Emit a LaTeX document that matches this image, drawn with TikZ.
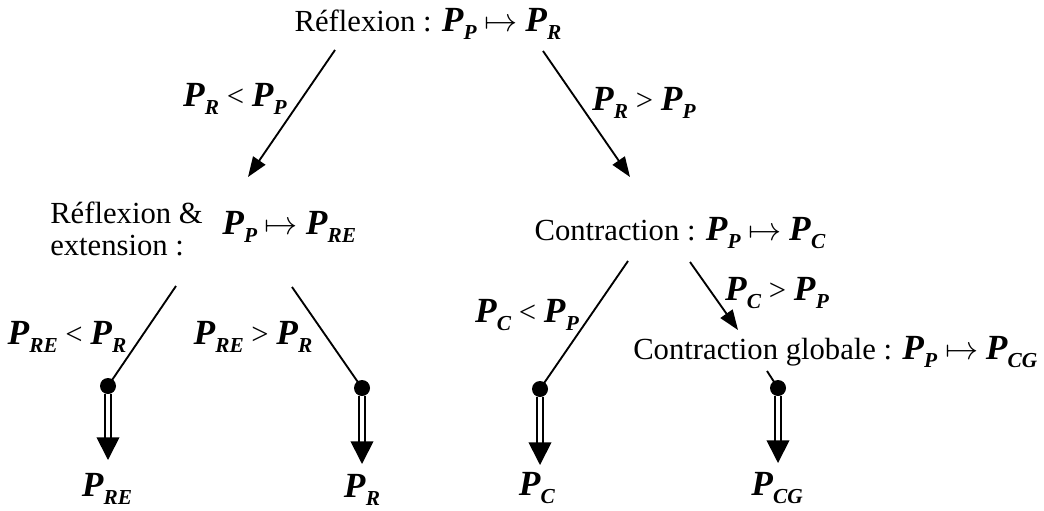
\documentclass[tikz,border=0pt]{standalone}
\usepackage{fontspec}
\setmainfont{Liberation Serif}
\usepackage{amssymb}
\usepackage{amsmath}
\usetikzlibrary{arrows.meta}

\newcommand{\pv}[1]{{\fontsize{26.5}{26.5}\selectfont\textbf{\textit{P}}}\raisebox{-0.55ex}{\fontsize{16}{16}\selectfont\textbf{\textit{#1}}}}

\tikzset{
  txt/.style={font=\fontsize{23}{24}\selectfont, inner sep=0pt},
  branch/.style={line width=1.4pt},
  choice/.style={branch, -{Triangle[width=11pt,length=15pt]}},
  dot/.style={circle, fill=black, inner sep=0pt, minimum size=12pt},
  result/.style={double, double distance=3pt, line width=1.3pt, -{Triangle[width=17pt,length=17pt]}}
}

\begin{document}
\begin{tikzpicture}[x=0.75pt, y=-0.75pt]
\useasboundingbox (0,0) rectangle (1044,510);

% les etapes
\node[txt] (refl) at (428,24) {R\'eflexion : \pv{P} $\mapsto$ \pv{R}};
\node[txt, align=left, anchor=west] (ext) at (50,229) {R\'eflexion \&\\extension :};
\node[txt, anchor=west] (extmap) at (222,227) {\pv{P} $\mapsto$ \pv{RE}};
\node[txt] (contr) at (680,233) {Contraction : \pv{P} $\mapsto$ \pv{C}};
\node[txt, anchor=west] (glob) at (633,352) {Contraction globale : \pv{P} $\mapsto$ \pv{CG}};

% les conditions
\node[txt] (c1) at (235,99) {\pv{R} < \pv{P}};
\node[txt] (c2) at (644,103) {\pv{R} > \pv{P}};
\node[txt] (c3) at (67,337) {\pv{RE} < \pv{R}};
\node[txt] (c4) at (253,337) {\pv{RE} > \pv{R}};
\node[txt] (c5) at (527,315) {\pv{C} < \pv{P}};
\node[txt] (c6) at (777,293) {\pv{C} > \pv{P}};

% les resultats
\node[txt] (r1) at (107,489) {\pv{RE}};
\node[txt] (r2) at (362,490) {\pv{R}};
\node[txt] (r3) at (537,488) {\pv{C}};
\node[txt] (r4) at (777,488) {\pv{CG}};

\node[dot] (d1) at (108,386) {};
\node[dot] (d2) at (362,388) {};
\node[dot] (d3) at (540,389) {};
\node[dot] (d4) at (778,388) {};

% extremites des traits
\coordinate (a1) at (335,50);
\coordinate (a2) at (248,177);
\coordinate (b1) at (543,51);
\coordinate (b2) at (630,177);
\coordinate (e1) at (176,286);
\coordinate (e2) at (292,287);
\coordinate (f1) at (628,261);
\coordinate (f2) at (690,262);
\coordinate (f3) at (738,330);
\coordinate (g1) at (767,371);
\coordinate (t1) at (108,460);
\coordinate (t2) at (362,464);
\coordinate (t3) at (540,465);
\coordinate (t4) at (778,463);

\draw[choice] (a1) -- (a2);
\draw[choice] (b1) -- (b2);
\draw[choice] (f2) -- (f3);

\draw[branch] (e1) -- (d1.center);
\draw[branch] (e2) -- (d2.center);
\draw[branch] (f1) -- (d3.center);
\draw[branch] (g1) -- (d4.center);

\draw[result] (d1.south) -- (t1);
\draw[result] (d2.south) -- (t2);
\draw[result] (d3.south) -- (t3);
\draw[result] (d4.south) -- (t4);

\end{tikzpicture}
\end{document}
